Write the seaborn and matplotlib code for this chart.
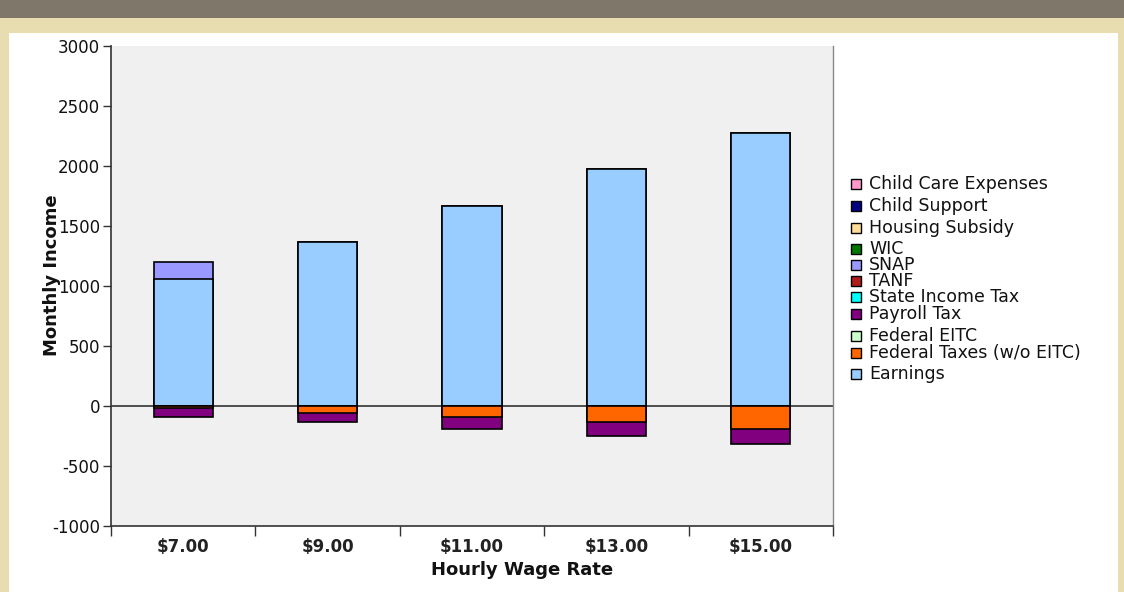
import matplotlib
matplotlib.use("Agg")
import matplotlib.pyplot as plt
import seaborn as sns
import pandas as pd
import numpy as np
from matplotlib.patches import Rectangle

# ---- data ----
wages = ["$7.00", "$9.00", "$11.00", "$13.00", "$15.00"]
earnings = [1062, 1365, 1668, 1972, 2275]
snap = [138, 0, 0, 0, 0]
federal_taxes = [-18, -58, -89, -133, -194]
payroll_tax = [-72, -76, -105, -117, -120]

legend_labels = ["Child Care Expenses", "Child Support", "Housing Subsidy", "WIC", "SNAP",
                 "TANF", "State Income Tax", "Payroll Tax", "Federal EITC",
                 "Federal Taxes (w/o EITC)", "Earnings"]
legend_colors = ["#ff99cc", "#000080", "#ffdd99", "#007700", "#9999ff",
                 "#b01c1c", "#00ffff", "#800080", "#ccffcc", "#ff6600", "#99ccff"]
yticks = [-1000, -500, 0, 500, 1000, 1500, 2000, 2500, 3000]

col = dict(zip(legend_labels, legend_colors))

sns.set_style("white")
plt.rcParams["font.family"] = ["DejaVu Sans"]

W, H = 1124, 592
fig = plt.figure(figsize=(W / 100, H / 100), dpi=100)
fig.patch.set_facecolor("#e8ddb1")
fig.patches.append(Rectangle((0, 1 - 18 / H), 1, 18 / H, transform=fig.transFigure,
                             facecolor="#80776b", edgecolor="none", zorder=-10))
fig.patches.append(Rectangle((9 / W, 0), (1118 - 9) / W, (H - 33) / H, transform=fig.transFigure,
                             facecolor="white", edgecolor="none", zorder=-10))

ax = fig.add_axes([111 / W, 1 - 526 / H, (833 - 111) / W, (526 - 46) / H])
ax.set_zorder(1)
ax.set_facecolor("#f0f0f0")

df = pd.DataFrame({
    "wage": wages,
    "pos_total": np.array(earnings) + np.array(snap),
    "earn": earnings,
    "neg_total": np.array(federal_taxes) + np.array(payroll_tax),
    "fed": federal_taxes,
})

common = dict(x="wage", order=wages, width=0.41, edgecolor="black", linewidth=1.2, ax=ax,
              errorbar=None, zorder=3)
sns.barplot(data=df, y="pos_total", color=col["SNAP"], saturation=1, **common)
sns.barplot(data=df, y="earn", color=col["Earnings"], saturation=1, **common)
sns.barplot(data=df, y="neg_total", color=col["Payroll Tax"], saturation=1, **common)
sns.barplot(data=df, y="fed", color=col["Federal Taxes (w/o EITC)"], saturation=1, **common)

ax.axhline(0, color="#333333", lw=1.2, zorder=2)

ax.set_ylim(-1000, 3000)
ax.set_xlim(-0.5, 4.5)
ax.set_yticks(yticks)
ax.set_yticklabels([str(v) for v in yticks], fontsize=12, color="#111111")
ax.set_xticks(range(len(wages)))
ax.set_xticklabels(wages, fontsize=12, fontweight="bold", color="#222222")
ax.set_xticks(np.arange(-0.5, 5.0, 1.0), minor=True)
ax.tick_params(axis="x", which="major", bottom=True, length=0, pad=9)
ax.tick_params(axis="x", which="minor", bottom=True, length=7, width=1, color="#333333",
               direction="out")
ax.tick_params(axis="y", which="major", left=True, length=6, width=1, color="#333333",
               direction="out", pad=2)
ax.set_xlabel("Hourly Wage Rate", fontsize=13, fontweight="bold", color="#111111")
ax.set_ylabel("Monthly Income", fontsize=13, fontweight="bold", color="#111111")
ax.xaxis.set_label_coords((522 - 111) / 722, (526 - 570) / 480)
ax.xaxis.label.set_va("center")
ax.yaxis.set_label_coords((52 - 111) / 722, (526 - 275) / 480)
ax.yaxis.label.set_va("center")

for s in ["left", "bottom"]:
    ax.spines[s].set_color("#333333")
    ax.spines[s].set_linewidth(1.2)
ax.spines["right"].set_color("#888888")
ax.spines["right"].set_linewidth(1.0)
ax.spines["top"].set_visible(False)

# legend (manual placement)
ys = [184, 206, 228, 249, 265, 281, 297, 314, 336, 353, 374]
for lab, c, y in zip(legend_labels, legend_colors, ys):
    fig.patches.append(Rectangle((851 / W, 1 - (y + 5) / H), 10 / W, 10 / H,
                                 transform=fig.transFigure, facecolor=c,
                                 edgecolor="black", linewidth=1, zorder=5))
    fig.text(869 / W, 1 - y / H, lab, fontsize=12.5, va="center", ha="left", color="#111111")

fig.savefig("out.png", dpi=100, facecolor=fig.get_facecolor())
